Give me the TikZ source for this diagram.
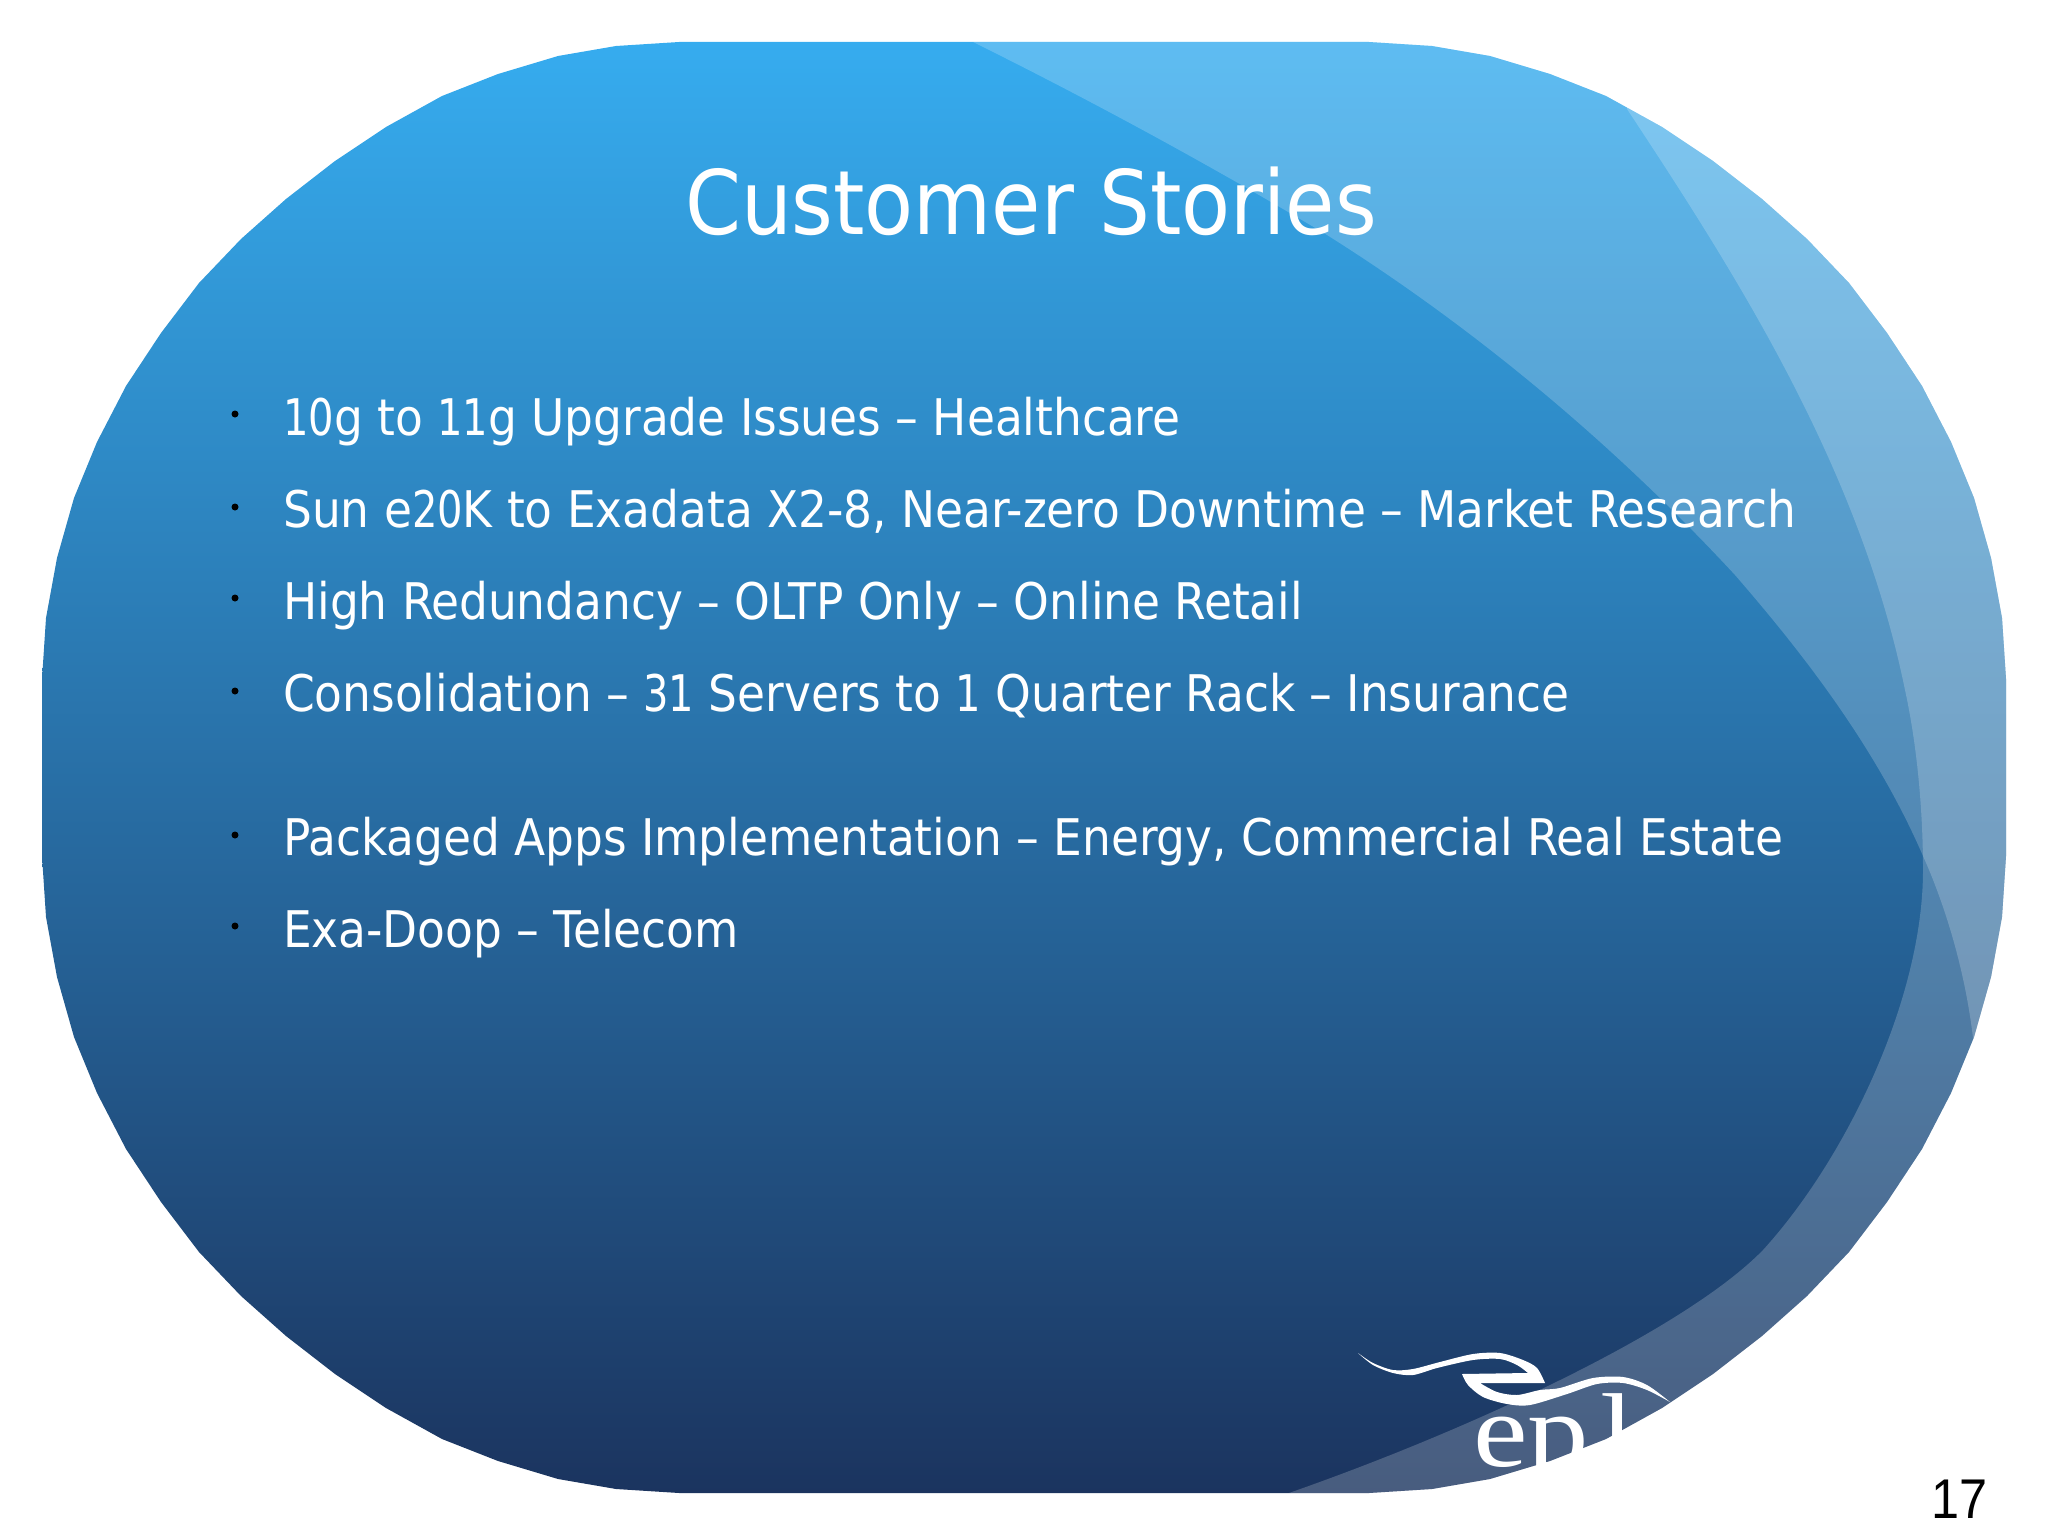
\documentclass[tikz,border=0pt]{standalone}
\usepackage{graphicx}
\usepackage{fontspec}
\setmainfont{DejaVu Sans Condensed}
\newfontfamily\numfont{Liberation Sans}
\newfontfamily\logofont{Liberation Serif}
\usetikzlibrary{calc}
\definecolor{slidetop}{HTML}{36ACEF}
\definecolor{slidemid}{HTML}{2A70A8}
\definecolor{slidebot}{HTML}{1B345F}
\tikzset{
	wavefill/.style={fill=white,fill opacity=0.2},
	itemtext/.style={anchor=base west,inner sep=0pt,text=white,font=\fontsize{50.5}{60}\selectfont},
	itembullet/.style={circle,fill=black,inner sep=0pt,minimum size=7pt}
}
\newcommand{\slideoutline}{(679,42)--(616,46)--(558,56)--(498,74)--(442,96)--(386,127)--(335,161)--(286,199)--(241,239)--(199,283)--(161,333)--(126,386)--(97,442)--(74,498)--(57,558)--(46,618)--(42,679)--(42,856)--(46,917)--(57,977)--(74,1037)--(97,1093)--(126,1149)--(161,1202)--(199,1252)--(241,1296)--(286,1336)--(335,1374)--(386,1408)--(442,1439)--(498,1461)--(558,1479)--(616,1489)--(679,1493)--(1369,1493)--(1432,1489)--(1490,1479)--(1550,1461)--(1606,1439)--(1662,1408)--(1713,1374)--(1762,1336)--(1807,1296)--(1849,1252)--(1887,1202)--(1922,1149)--(1951,1093)--(1974,1037)--(1991,977)--(2002,917)--(2006,856)--(2006,679)--(2002,618)--(1991,558)--(1974,498)--(1951,442)--(1922,386)--(1887,333)--(1849,283)--(1807,239)--(1762,199)--(1713,161)--(1662,127)--(1606,96)--(1550,74)--(1490,56)--(1432,46)--(1369,42)--cycle}
% digits of the slide font run narrower
\newcommand{\dg}[1]{\scalebox{0.88}[1]{#1}}

\begin{document}
\begin{tikzpicture}[x=1pt,y=-1pt]
	\useasboundingbox (0,0) rectangle (2048,1536);
	\begin{scope}
		\clip \slideoutline;
		\shade[top color=slidetop,middle color=slidemid,bottom color=slidebot] (0,42) rectangle (2048,1493);
		% the two lighter waves
		\fill[wavefill] (973,0) -- (973,42) .. controls (1090,100) and (1210,165) .. (1327,235) .. controls (1470,325) and (1610,440) .. (1735,575) .. controls (1800,650) and (1875,745) .. (1923,856) .. controls (1945,905) and (1965,970) .. (1973,1038) -- (2048,1038) -- (2048,0) -- cycle;
		\fill[wavefill] (1627,0) -- (1627,109) .. controls (1740,280) and (1860,470) .. (1905,690) .. controls (1917,745) and (1923,810) .. (1923,870) .. controls (1923,1000) and (1845,1160) .. (1763,1250) .. controls (1685,1330) and (1470,1430) .. (1286,1494) -- (1286,1536) -- (2048,1536) -- (2048,0) -- cycle;
	\end{scope}

	\node[anchor=base,inner sep=0pt,text=white,font=\fontsize{89}{100}\selectfont] (title) at (1031,234) {Customer Stories};

	\node[itembullet] (bulletA) at (235,414) {};
	\node[itembullet] (bulletB) at (235,507) {};
	\node[itembullet] (bulletC) at (235,598) {};
	\node[itembullet] (bulletD) at (235,691) {};
	\node[itembullet] (bulletE) at (235,835) {};
	\node[itembullet] (bulletF) at (235,926) {};
	\node[itemtext] (itemA) at (283,435) {\dg{10}g to \dg{11}g Upgrade Issues – Healthcare};
	\node[itemtext] (itemB) at (283,527) {Sun e\dg{20}K to Exadata X2-8, Near-zero Downtime – Market Research};
	\node[itemtext] (itemC) at (283,619) {High Redundancy – OLTP Only – Online Retail};
	\node[itemtext] (itemD) at (283,711) {Consolidation – \dg{31} Servers to \dg{1} Quarter Rack – Insurance};
	\node[itemtext] (itemE) at (283,855) {Packaged Apps Implementation – Energy, Commercial Real Estate};
	\node[itemtext] (itemF) at (283,947) {Exa-Doop – Telecom};

	% logo, white on white where it runs off the blue
	\fill[white] plot[smooth] coordinates {(1358,1353) (1373,1363) (1393,1370) (1413,1369) (1440,1362) (1473,1354) (1500,1353) (1523,1360) (1537,1368) (1545,1383)} -- (1480,1383) -- plot[smooth] coordinates {(1480,1383) (1497,1392) (1517,1395) (1540,1390) (1560,1388) (1593,1378) (1623,1377) (1647,1385) (1670,1402)} -- plot[smooth] coordinates {(1670,1402) (1647,1390) (1623,1383) (1597,1384) (1567,1394) (1530,1405) (1507,1404) (1483,1397) (1468,1385) (1462,1374)} -- (1528,1373) -- plot[smooth] coordinates {(1528,1373) (1517,1365) (1500,1359) (1473,1360) (1437,1368) (1413,1375) (1393,1373) (1373,1365) (1358,1353)} -- cycle;
	\node[anchor=base west,inner sep=0pt,text=white,font=\logofont\fontsize{105}{120}\selectfont] (logo) at (1473,1466) {\scalebox{1.17}[1]{ep\kern10pt l}};

	\node[anchor=base east,inner sep=0pt,text=black,font=\numfont\fontsize{56}{60}\selectfont] (pagenum) at (1988,1518) {\scalebox{0.9}[1]{17}};
\end{tikzpicture}
\end{document}
